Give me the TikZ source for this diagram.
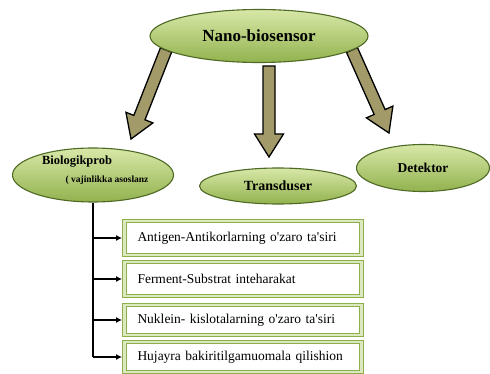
\documentclass[tikz,border=0pt]{standalone}
\usepackage{fontspec}
\setmainfont{Liberation Serif}
\usetikzlibrary{arrows.meta,calc,shapes.geometric}

\definecolor{leafLight}{HTML}{D8E8A8}
\definecolor{leafDark}{HTML}{92B24E}
\definecolor{leafEdge}{HTML}{4F6A24}
\definecolor{oliveArrow}{HTML}{A29A69}
\definecolor{frameGreen}{HTML}{8EB04A}
\definecolor{frameLight}{HTML}{DCE8BF}

\pgfdeclarelayer{behind}
\pgfsetlayers{behind,main}

% fat block arrow from #1 to #2
\newcommand{\fatarrow}[2]{%
  \coordinate (hb) at ($(#2)!23pt!(#1)$);
  \draw[bigarrow] ($(#1)!6pt!90:(#2)$) -- ($(hb)!6pt!90:(#2)$) -- ($(hb)!14.5pt!90:(#2)$)
    -- (#2) -- ($(hb)!14.5pt!-90:(#2)$) -- ($(hb)!6pt!-90:(#2)$) -- ($(#1)!6pt!-90:(#2)$) -- cycle;}

\begin{document}
\begin{tikzpicture}[x=1pt, y=-1pt,
  leaf/.style={ellipse, draw=leafEdge, line width=1.1pt, top color=leafLight, bottom color=leafDark, inner sep=0pt},
  bigarrow/.style={draw=black, line width=1.3pt, fill=oliveArrow, line join=miter},
  leafbox/.style={rectangle, draw=frameGreen, double=frameLight, double distance=2.5pt, line width=0.9pt,
    fill=white, text width=211pt, inner xsep=13pt, align=left, font=\fontsize{13.5}{15}\selectfont},
  branch/.style={-{Latex[length=6pt,width=6pt]}, line width=1.6pt, shorten >=2pt}]
\useasboundingbox (0,0) rectangle (490,374);

%%%%% Ellipses %%%%%
\node[leaf, minimum width=218pt, minimum height=53pt] (nano) at (259,36) {\fontsize{17}{20}\selectfont\bfseries Nano-biosensor};
\node[leaf, minimum width=161pt, minimum height=54pt] (bio) at (93,175) {};
\node[font=\fontsize{12.5}{14}\selectfont\bfseries] (biotitle) at (77,162) {Biologikprob};
\node[font=\fontsize{9.5}{11}\selectfont\bfseries] (biosub) at (107,180) {( vajinlikka asoslanz};
\node[leaf, minimum width=157pt, minimum height=36pt] (trans) at (278,186) {\fontsize{14}{16}\selectfont\bfseries Transduser};
\node[leaf, minimum width=133pt, minimum height=47pt] (detek) at (423,168) {\fontsize{13.5}{15}\selectfont\bfseries Detektor};

%%%%% Big arrows %%%%%
\coordinate (srcBio) at (166,50);
\coordinate (tipBio) at (131,139);
\coordinate (srcTrans) at (269,66);
\coordinate (tipTrans) at (269,157);
\coordinate (srcDetek) at (352,50);
\coordinate (tipDetek) at (389,133);
\begin{pgfonlayer}{behind}
\fatarrow{srcBio}{tipBio}
\fatarrow{srcTrans}{tipTrans}
\fatarrow{srcDetek}{tipDetek}
\end{pgfonlayer}

%%%%% Boxes %%%%%
\node[leafbox, minimum height=34pt] (box1) at (243,238) {Antigen-Antikorlarning o\textquotesingle zaro ta\textquotesingle siri};
\node[leafbox, minimum height=34pt] (box2) at (243,279) {Ferment-Substrat inteharakat};
\node[leafbox, minimum height=30pt] (box3) at (243,320) {Nuklein- kislotalarning o\textquotesingle zaro ta\textquotesingle siri};
\node[leafbox, minimum height=30pt] (box4) at (243,357) {Hujayra bakiritilgamuomala qilishion};

%%%%% Tree %%%%%
\draw[line width=1.6pt] (bio.south) -- (bio.south |- box4.west);
\foreach \b in {box1,box2,box3,box4}{
  \draw[branch] (bio.south |- \b.west) -- (\b.west);
}
\end{tikzpicture}
\end{document}
